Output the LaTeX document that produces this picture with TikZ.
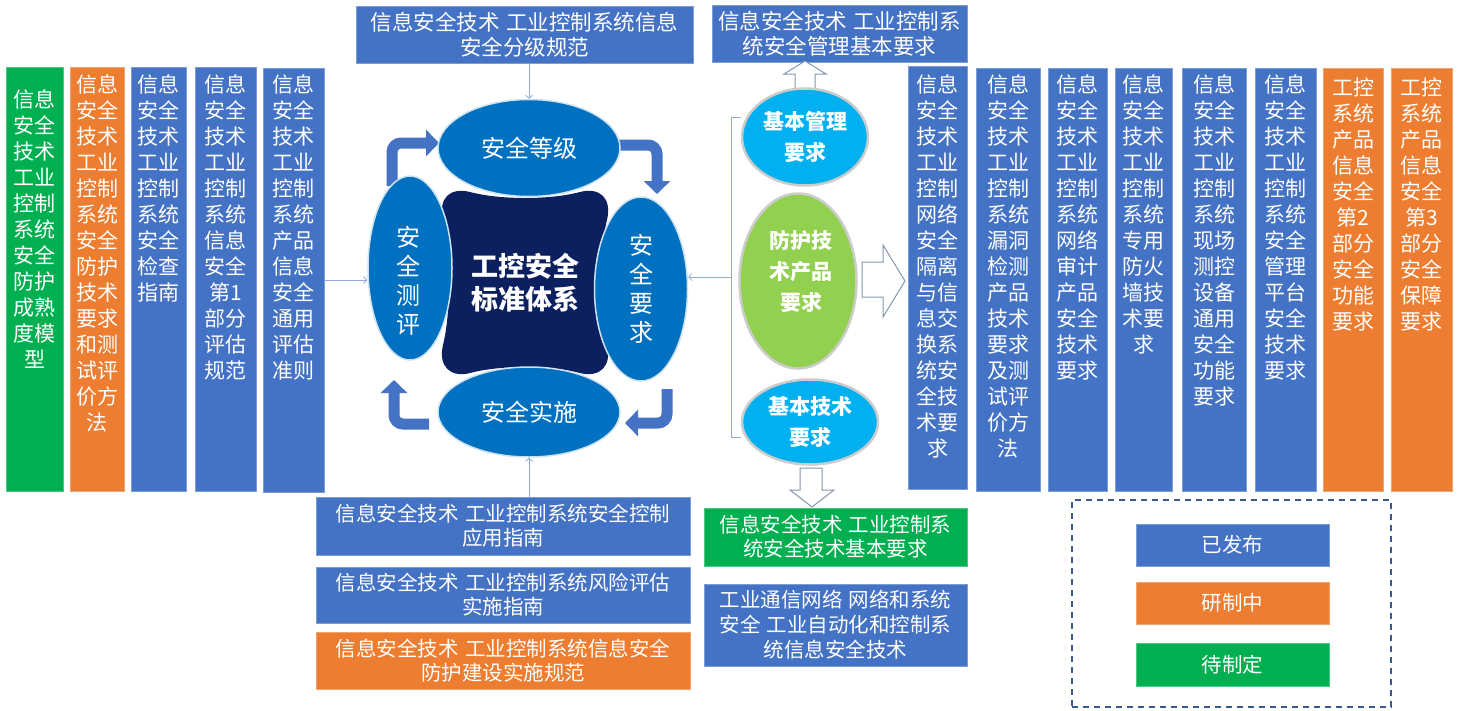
\documentclass[tikz,border=0pt]{standalone}
\usepackage{fontspec}
\setmainfont{Noto Sans CJK SC}
\usetikzlibrary{shapes.geometric,arrows.meta}
\definecolor{pblue}{HTML}{4472C4}
\definecolor{porange}{HTML}{ED7D31}
\definecolor{pgreen}{HTML}{00B050}
\definecolor{navy}{HTML}{0C1F5E}
\definecolor{mblue}{HTML}{0070C0}
\definecolor{sky}{HTML}{00B0F0}
\definecolor{lime}{HTML}{92D050}
\definecolor{thinc}{HTML}{8FAADC}
\definecolor{hollow}{HTML}{8497B0}
\definecolor{legc}{HTML}{3A5A8C}
\newcommand\wsp{\hspace{0.3em}}
\tikzset{
 colbox/.style={rectangle, draw=#1!70!white, fill=#1, line width=0.8pt, inner sep=0pt},
 coltext/.style={text=white, align=center, inner sep=0pt, font=\fontsize{21}{26}\selectfont},
 hbox/.style={rectangle, draw=#1!70!white, fill=#1, line width=0.8pt, inner sep=0pt, text=white, align=center},
 ell/.style={ellipse, fill=mblue, draw=white!80!mblue, line width=1.5pt, inner sep=0pt, text=white},
 sell/.style={ellipse, fill=#1, draw=gray!40, line width=2.5pt, inner sep=0pt, text=white, align=center},
 bent/.style={draw=pblue, line width=11pt, rounded corners=9pt, -{Triangle[length=13pt,width=26pt]}},
 hollowarr/.style={draw=hollow, fill=white, line width=1pt, line join=miter},
 thinarr/.style={draw=thinc, line width=0.8pt, -{Straight Barb[length=3pt,width=7pt]}},
}
\newcommand\mycol[8]{%
  \node[colbox=#6, minimum width={#3-#2}, minimum height={#5-#4}] (#1) at ({(#2+#3)/2},{(#4+#5)/2}) {};
  \node[coltext, anchor=north] (#1t) at ({(#2+#3)/2},#7) {#8};}
\begin{document}
\begin{tikzpicture}[x=1pt,y=-1pt]
\useasboundingbox (0,0) rectangle (1458,710);
% left columns
\mycol{L1}{6}{63}{67}{491}{pgreen}{89}{信息\\安全\\技术\\工业\\控制\\系统\\安全\\防护\\成熟\\度模\\型}
\mycol{L2}{70}{124}{67}{491}{porange}{74}{信息\\安全\\技术\\工业\\控制\\系统\\安全\\防护\\技术\\要求\\和测\\试评\\价方\\法}
\mycol{L3}{131}{186}{67}{491}{pblue}{74}{信息\\安全\\技术\\工业\\控制\\系统\\安全\\检查\\指南}
\mycol{L4}{195}{256}{67}{491}{pblue}{74}{信息\\安全\\技术\\工业\\控制\\系统\\信息\\安全\\第1\\部分\\评估\\规范}
\mycol{L5}{263}{324}{68}{492}{pblue}{74}{信息\\安全\\技术\\工业\\控制\\系统\\产品\\信息\\安全\\通用\\评估\\准则}
% right columns
\mycol{R1}{908}{967}{66}{489}{pblue}{74}{信息\\安全\\技术\\工业\\控制\\网络\\安全\\隔离\\与信\\息交\\换系\\统安\\全技\\术要\\求}
\mycol{R2}{976}{1040}{68}{491}{pblue}{74}{信息\\安全\\技术\\工业\\控制\\系统\\漏洞\\检测\\产品\\技术\\要求\\及测\\试评\\价方\\法}
\mycol{R3}{1048}{1107}{68}{491}{pblue}{74}{信息\\安全\\技术\\工业\\控制\\系统\\网络\\审计\\产品\\安全\\技术\\要求}
\mycol{R4}{1115}{1172}{68}{491}{pblue}{74}{信息\\安全\\技术\\工业\\控制\\系统\\专用\\防火\\墙技\\术要\\求}
\mycol{R5}{1182}{1246}{68}{491}{pblue}{74}{信息\\安全\\技术\\工业\\控制\\系统\\现场\\测控\\设备\\通用\\安全\\功能\\要求}
\mycol{R6}{1255}{1316}{68}{491}{pblue}{74}{信息\\安全\\技术\\工业\\控制\\系统\\安全\\管理\\平台\\安全\\技术\\要求}
\mycol{R7}{1323}{1383}{68}{491}{porange}{78}{工控\\系统\\产品\\信息\\安全\\第2\\部分\\安全\\功能\\要求}
\mycol{R8}{1391}{1452}{68}{491}{porange}{78}{工控\\系统\\产品\\信息\\安全\\第3\\部分\\安全\\保障\\要求}
% top boxes
\node[hbox=pblue, minimum width=337, minimum height=57, font=\fontsize{21.5}{25}\selectfont] (T1) at (524.5,34.5) {信息安全技术\wsp 工业控制系统信息\\安全分级规范};
\node[hbox=pblue, minimum width=255, minimum height=57, font=\fontsize{21.5}{25}\selectfont] (T2) at (839.5,33.5) {信息安全技术\wsp 工业控制系\\统安全管理基本要求};
% bent arrows (cycle)
\draw[bent] (392,186) |- (439,143);
\draw[bent] (612,145) -| (657,194);
\draw[bent] (667,389) |- (625,423);
\draw[bent] (429,424) -| (394,380);
% central shape
\fill[navy] (470,192) .. controls (500,200) and (550,200) .. (580,192)
  .. controls (600,187) and (612,198) .. (607,220)
  .. controls (599,252) and (599,313) .. (607,345)
  .. controls (612,366) and (600,378) .. (580,373)
  .. controls (550,365) and (500,365) .. (470,373)
  .. controls (450,378) and (438,366) .. (443,345)
  .. controls (451,313) and (451,252) .. (443,220)
  .. controls (438,198) and (450,187) .. (470,192) -- cycle;
\node[text=white, align=center, inner sep=0pt, font=\fontsize{27}{33}\selectfont\bfseries] (core) at (525,283) {工控安全\\标准体系};
% four ellipses
\node[ell, minimum width=182, minimum height=97, font=\fontsize{24}{29}\selectfont] (level) at (529,148) {安全等级};
\node[ell, minimum width=182, minimum height=90, font=\fontsize{24}{29}\selectfont] (impl) at (529,412) {安全实施};
\node[ell, minimum width=84, minimum height=184] (eval) at (410,268) {};
\node[text=white, align=center, inner sep=0pt, font=\fontsize{24}{29}\selectfont] (evalt) at (408,281) {安\\全\\测\\评};
\node[ell, minimum width=93, minimum height=184, align=center, font=\fontsize{24}{29}\selectfont] (req) at (641,289) {安\\全\\要\\求};
% thin connectors
\draw[thinarr] (T1.south -| level.north) -- (level.north);
\draw[thinarr] (L5.east |- 0,280) -- (eval.west |- 0,280);
% bottom boxes
\node[hbox=pblue, minimum width=374, minimum height=58, font=\fontsize{20.5}{24}\selectfont] (BA) at (503,526) {信息安全技术\wsp 工业控制系统安全控制\\应用指南};
\node[hbox=pblue, minimum width=374, minimum height=56, font=\fontsize{20.5}{24}\selectfont] (BB) at (503,595) {信息安全技术\wsp 工业控制系统风险评估\\实施指南};
\node[hbox=porange, minimum width=374, minimum height=57, font=\fontsize{20.5}{24}\selectfont] (BC) at (503,660.5) {信息安全技术\wsp 工业控制系统信息安全\\防护建设实施规范};
\node[hbox=pgreen, minimum width=263, minimum height=58, font=\fontsize{20.5}{24}\selectfont] (BD) at (835.5,537) {信息安全技术\wsp 工业控制系\\统安全技术基本要求};
\node[hbox=pblue, minimum width=263, minimum height=82, font=\fontsize{20.5}{25}\selectfont] (BE) at (835.5,625) {工业通信网络\wsp 网络和系统\\安全\wsp 工业自动化和控制系\\统信息安全技术};
\draw[thinarr] (BA.north -| impl.south) -- (impl.south);
% hollow block arrows
\draw[hollowarr] (795,92) -- (795,74) -- (784,74) -- (805,61) -- (826,74) -- (815,74) -- (815,92) -- cycle;
\draw[hollowarr] (862,262) -- (883,262) -- (883,245) -- (905,281) -- (883,317) -- (883,297) -- (862,297) -- cycle;
\draw[hollowarr] (800,468) -- (822,468) -- (822,490) -- (834,490) -- (812,507) -- (790,490) -- (800,490) -- cycle;
% right ellipses
\node[sell=sky, minimum width=126, minimum height=97, font=\fontsize{21}{31}\selectfont\bfseries] (mgmt) at (805,137) {基本管理\\要求};
\node[sell=lime, minimum width=117, minimum height=175] (prot) at (798,281) {};
\node[text=white, align=center, inner sep=0pt, font=\fontsize{21}{31}\selectfont\bfseries] (prott) at (801,271) {防护技\\术产品\\要求};
\node[sell=sky, minimum width=136, minimum height=85, font=\fontsize{21}{31}\selectfont\bfseries] (tech) at (810,422) {基本技术\\要求};
% bracket
\coordinate (bmid) at (731,277);
\draw[thinc, line width=0.8pt] (741,117) -- (731,117) -- (731,437) -- (741,437);
\draw[thinarr] (bmid) -- (req.east |- bmid);
% legend
\node[draw=legc, line width=1.5pt, dash pattern=on 6pt off 5pt, minimum width=319, minimum height=207, inner sep=0pt] (legend) at (1231.5,603.5) {};
\node[hbox=pblue, minimum width=193, minimum height=42, font=\fontsize{20.5}{24}\selectfont] (lg1) at (1232.5,545) {已发布};
\node[hbox=porange, minimum width=193, minimum height=42, font=\fontsize{20.5}{24}\selectfont] (lg2) at (1232.5,603) {研制中};
\node[hbox=pgreen, minimum width=193, minimum height=43, font=\fontsize{20.5}{24}\selectfont] (lg3) at (1232.5,664.5) {待制定};
\end{tikzpicture}
\end{document}
